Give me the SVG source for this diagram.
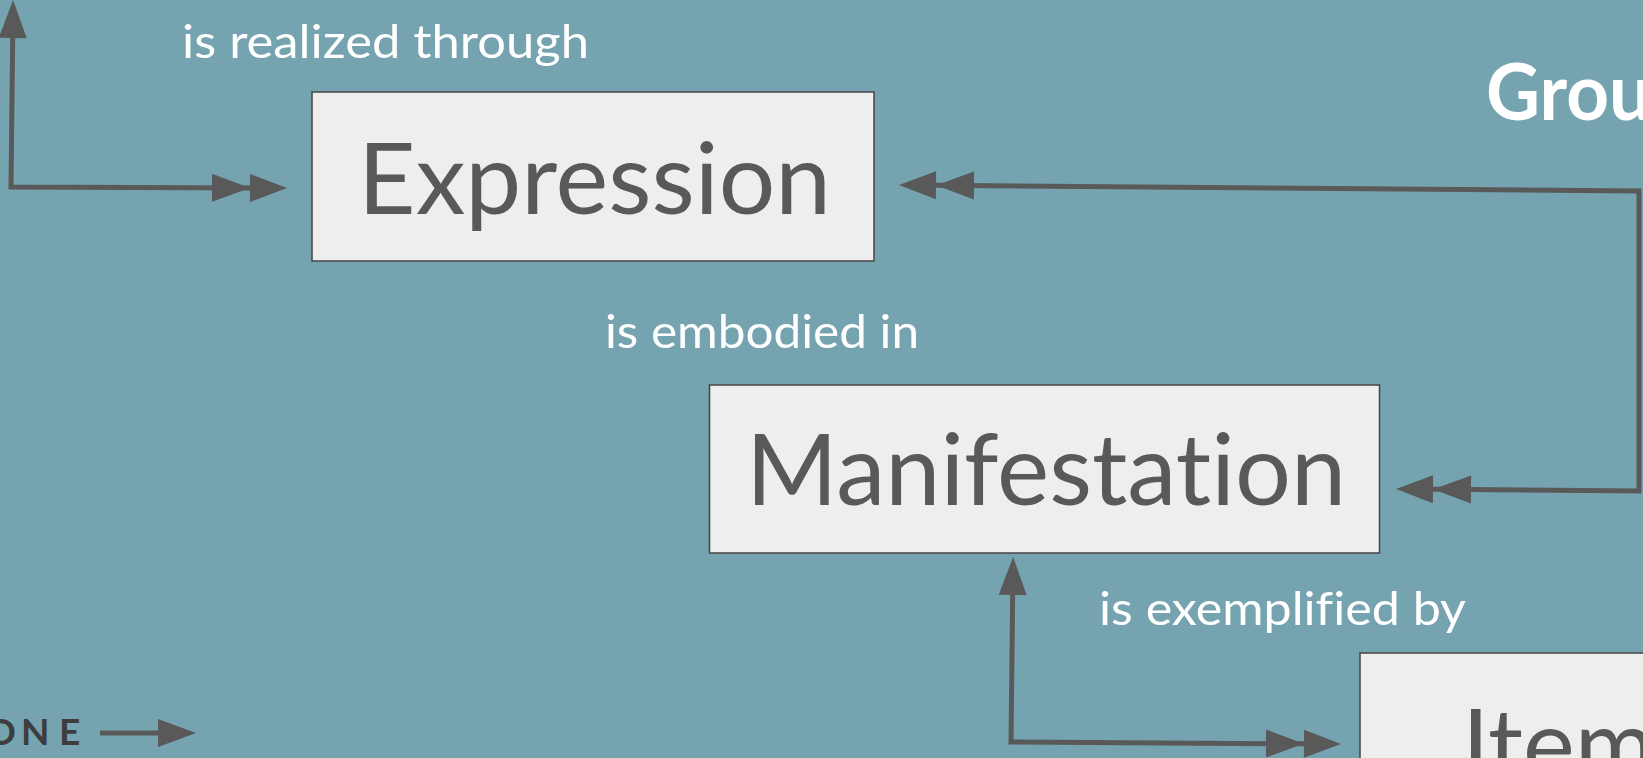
<svg xmlns="http://www.w3.org/2000/svg" width="1643" height="758" viewBox="0 0 1643 758">
<style>
.box{fill:#eeeeee;stroke:#454545;stroke-width:1.5}
.name{font-family:Lato,"Noto Sans","DejaVu Sans",sans-serif;font-size:98px;fill:#595959;font-variant-ligatures:none}
.lbl{font-family:Lato,"Noto Sans","DejaVu Sans",sans-serif;font-size:47px;fill:#ffffff;font-variant-ligatures:none}
.conn{fill:none;stroke:#595959;stroke-width:5;stroke-linejoin:miter}
</style>
<defs>
<marker id="one" markerUnits="userSpaceOnUse" viewBox="-40 -15 41 30" refX="-10" refY="0" markerWidth="41" markerHeight="30" orient="auto-start-reverse">
<path d="M-38,-14 L0,0 L-38,14 Z" fill="#595959"/>
</marker>
<marker id="two" markerUnits="userSpaceOnUse" viewBox="-78 -15 79 30" refX="-10" refY="0" markerWidth="79" markerHeight="30" orient="auto-start-reverse">
<path d="M-75,-14 L-37,0 L-75,14 Z M-37,-14 L0,0 L-37,14 Z" fill="#595959"/>
</marker>
</defs>
<rect x="0" y="0" width="1643" height="758" fill="#75a4b0"/>
<g id="connectors">
<path class="conn" d="M13,10 L11,187 L277,188" marker-start="url(#one)" marker-end="url(#two)"/>
<path class="conn" d="M909,185 L1639,191 L1639,491 L1406,489" marker-start="url(#two)" marker-end="url(#two)"/>
<path class="conn" d="M1013,567 L1011,742 L1331,744" marker-start="url(#one)" marker-end="url(#two)"/>
<path class="conn" d="M100,733 L186,733" marker-end="url(#one)"/>
</g>
<g id="label-realized"><text class="lbl" x="182" y="58" textLength="407" lengthAdjust="spacingAndGlyphs">is realized through</text></g>
<g id="expression">
<rect class="box" x="312" y="92" width="562" height="169"/>
<text class="name" x="358" y="214" textLength="473" lengthAdjust="spacingAndGlyphs">Expression</text>
</g>
<g id="label-embodied"><text class="lbl" x="605" y="348" textLength="314" lengthAdjust="spacingAndGlyphs">is embodied in</text></g>
<g id="manifestation">
<rect class="box" x="709.5" y="385" width="670" height="168"/>
<text class="name" x="746" y="505" textLength="600" lengthAdjust="spacingAndGlyphs">Manifestation</text>
</g>
<g id="label-exemplified"><text class="lbl" x="1099" y="625" textLength="367" lengthAdjust="spacingAndGlyphs">is exemplified by</text></g>
<g id="item">
<rect class="box" x="1360" y="653" width="400" height="200"/>
<text class="name" x="1462" y="780">Item</text>
</g>
<g id="group-title"><text x="1486" y="120" font-family="Lato,'Noto Sans',sans-serif" font-size="78" font-weight="bold" fill="#ffffff" textLength="165" lengthAdjust="spacingAndGlyphs">Grou</text></g>
<g id="group-one"><text y="745" font-family="Lato,'Noto Sans',sans-serif" font-size="37" font-weight="bold" fill="#3d3d3d"><tspan x="-14">O</tspan><tspan x="21">N</tspan><tspan x="59">E</tspan></text></g>
</svg>
